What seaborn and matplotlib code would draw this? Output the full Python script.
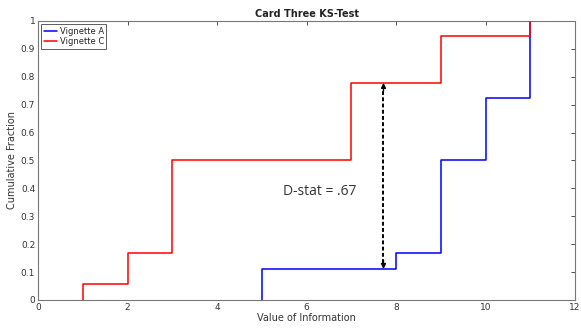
import matplotlib
matplotlib.use("Agg")
import matplotlib.pyplot as plt
import seaborn as sns
import pandas as pd

# observed values of information (18 responses per vignette), read from the steps
vignette_a = [5, 5, 8, 9, 9, 9, 9, 9, 9, 10, 10, 10, 10, 11, 11, 11, 11, 11]
vignette_c = [1, 2, 2, 3, 3, 3, 3, 3, 3, 7, 7, 7, 7, 7, 9, 9, 9, 11]
series_names = ["Vignette A", "Vignette C"]
series_colors = ["#0000ff", "#ff0000"]

d_x = 7.72
d_low, d_high = 0.111, 0.778
d_label = "D-stat = .67"

df = pd.DataFrame({
    "value": vignette_a + vignette_c,
    "group": [series_names[0]] * len(vignette_a) + [series_names[1]] * len(vignette_c),
})

sns.set_style("white")
fig = plt.figure(figsize=(5.81, 3.31), dpi=100)
ax = fig.add_axes([0.0654, 0.0937, 0.9243, 0.843])

sns.ecdfplot(data=df, x="value", hue="group", palette=dict(zip(series_names, series_colors)),
             hue_order=series_names, ax=ax, linewidth=1.1, legend=False)
# red (Vignette C) sits on top where both reach 1
for ln in ax.lines:
    if matplotlib.colors.to_hex(ln.get_color()) == series_colors[1]:
        ln.set_zorder(3)

ax.set_xlim(0, 12)
ax.set_ylim(0, 1)
ax.set_xticks(range(0, 13, 2))
ax.set_yticks([i / 10 for i in range(11)])
ax.set_yticklabels(["0", "0.1", "0.2", "0.3", "0.4", "0.5", "0.6", "0.7", "0.8", "0.9", "1"])
ax.tick_params(direction="in", length=3, width=0.6, labelsize=6.5, colors="#333333",
               top=True, right=True, pad=2)
for s in ax.spines.values():
    s.set_color("#777777")
    s.set_linewidth(0.8)

ax.set_xlabel("Value of Information", fontsize=7, color="#333333", labelpad=1)
ax.set_ylabel("Cumulative Fraction", fontsize=7, color="#333333", labelpad=3)
ax.set_title("Card Three KS-Test", fontsize=7, fontweight="bold", color="#222222", pad=3)

handles = [plt.Line2D([], [], color=c, linewidth=1.1) for c in series_colors]
leg = ax.legend(handles, series_names, loc="upper left", fontsize=6, frameon=True,
                fancybox=False, handlelength=1.6, handletextpad=0.3, borderpad=0.3,
                labelspacing=0.15, borderaxespad=0.4)
leg.get_frame().set_edgecolor("#333333")
leg.get_frame().set_linewidth(0.7)

# dashed shaft plus arrowheads at both ends
ax.plot([d_x, d_x], [d_low + 0.02, d_high - 0.02], color="black", lw=1.4,
        linestyle=(0, (2, 1.2)), zorder=4)
for y0, y1 in [(d_low + 0.03, d_low), (d_high - 0.03, d_high)]:
    ax.annotate("", xy=(d_x, y1), xytext=(d_x, y0),
                arrowprops=dict(arrowstyle="-|>", color="black", lw=1.0,
                                mutation_scale=7, shrinkA=0, shrinkB=0), zorder=4)
ax.text(6.3, 0.39, d_label, fontsize=10, family="Open Sans", color="#333333",
        ha="center", va="center")

fig.savefig("out.png", dpi=100)
